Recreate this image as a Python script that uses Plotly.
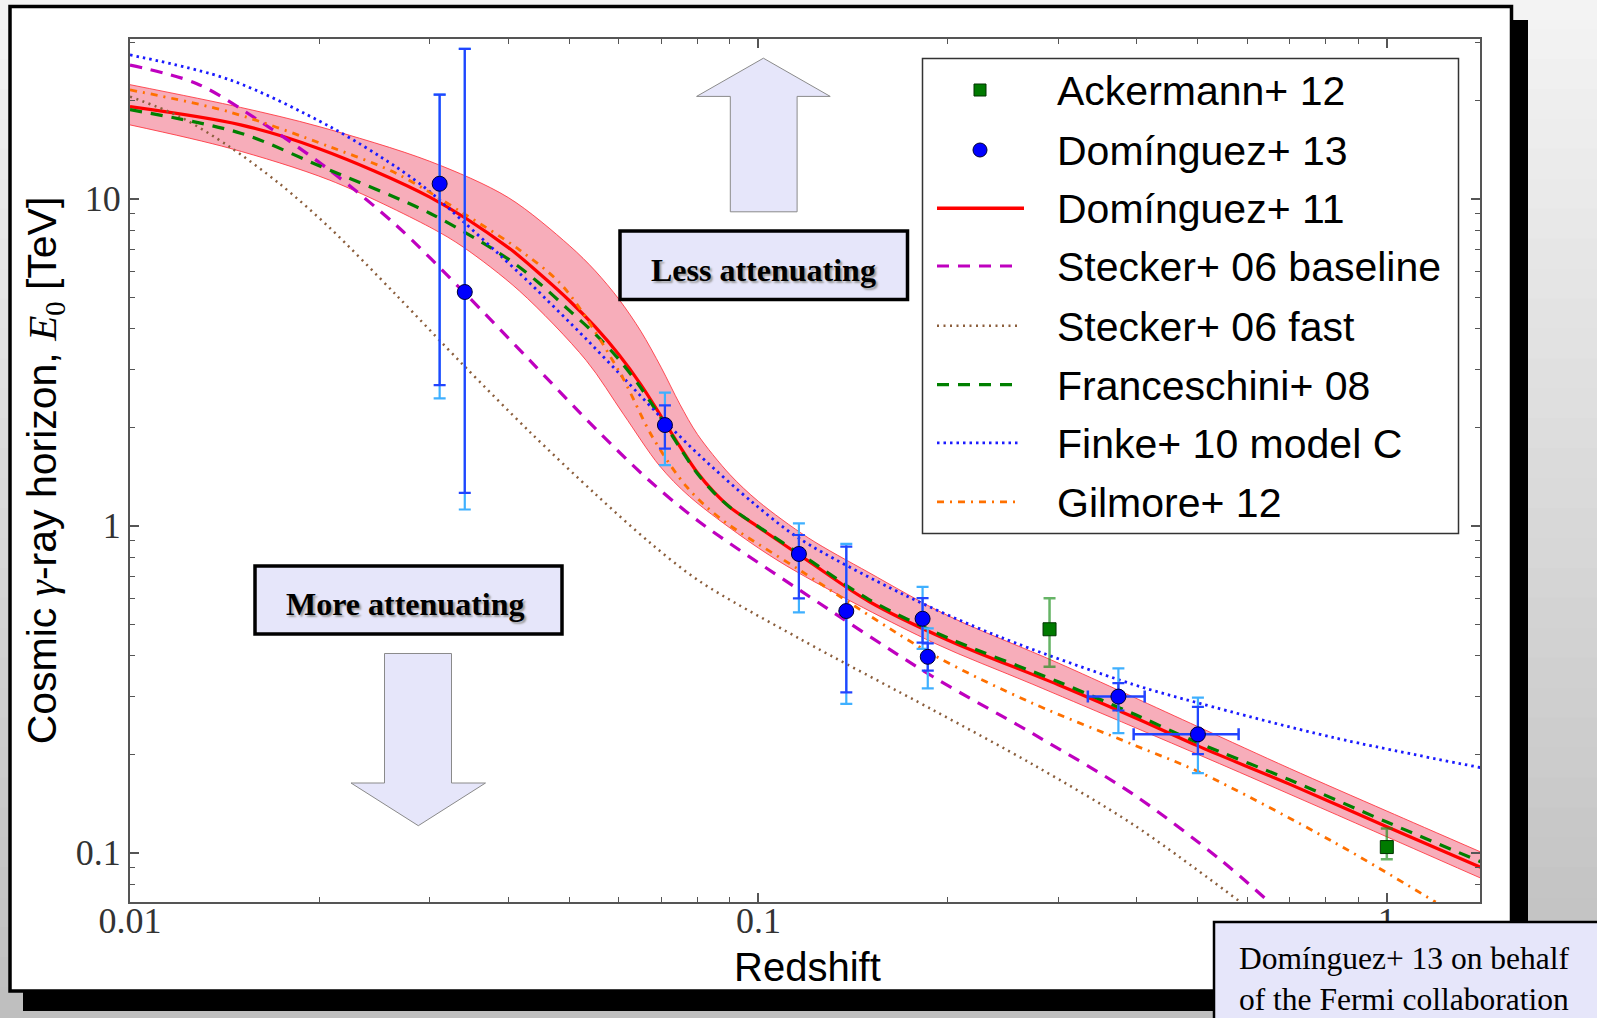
import plotly.graph_objects as go

# ---------------- data ----------------
# Domínguez+ 11: central curve and uncertainty band
dom11_z = [0.01, 0.015, 0.02, 0.03, 0.04, 0.045, 0.05, 0.055, 0.06, 0.065, 0.07, 0.075, 0.08,
           0.085, 0.09, 0.1, 0.12, 0.15, 0.2, 0.3, 0.4, 0.5, 0.7, 1.0, 1.41]
dom11_e = [19.1, 16.8, 14.2, 10.1, 7.08, 5.86, 4.88, 4.05, 3.33, 2.70, 2.16, 1.746, 1.45,
           1.265, 1.14, 0.989, 0.780, 0.586, 0.447, 0.326, 0.257, 0.212, 0.162, 0.120, 0.0902]
band_hi_z = [0.01, 0.015, 0.02, 0.03, 0.04, 0.05, 0.055, 0.06, 0.065, 0.07, 0.075,
             0.08, 0.09, 0.1, 0.12, 0.15, 0.2, 0.3, 0.5, 0.7, 1.0, 1.41]
band_hi_e = [22.3, 19.0, 16.6, 13.0, 10.07, 7.19, 6.01, 4.92, 3.93, 3.05, 2.35,
             1.90, 1.435, 1.186, 0.918, 0.718, 0.531, 0.380, 0.243, 0.181, 0.134, 0.1005]
band_lo_z = [0.01, 0.0144, 0.0208, 0.030, 0.0339, 0.0417, 0.0532, 0.061, 0.0696, 0.0777,
             0.098, 0.1163, 0.1896, 0.2734, 0.542, 1.41]
band_lo_e = [16.8, 14.26, 11.38, 8.18, 7.11, 5.21, 3.20, 2.19, 1.524, 1.227,
             0.877, 0.714, 0.439, 0.327, 0.187, 0.0836]

# Stecker+ 06 baseline
stb_z = [0.01, 0.01275, 0.01627, 0.0208, 0.0265, 0.0339, 0.0432, 0.0552, 0.0671, 0.0806,
         0.1163, 0.1896, 0.2734, 0.3945, 0.542, 0.643]
stb_e = [25.6, 22.5, 17.0, 12.2, 8.30, 5.20, 3.21, 1.97, 1.371, 1.026,
         0.635, 0.345, 0.231, 0.151, 0.0955, 0.0719]

# Stecker+ 06 fast
stf_z = [0.01, 0.012, 0.0144, 0.0173, 0.0208, 0.0265, 0.0339, 0.0432, 0.0552, 0.0671,
         0.0806, 0.1163, 0.1896, 0.2734, 0.3945, 0.585]
stf_e = [20.5, 17.8, 14.4, 11.1, 8.13, 5.08, 3.10, 1.94, 1.242, 0.889,
         0.676, 0.451, 0.273, 0.186, 0.122, 0.0706]

# Franceschini+ 08
fra_z = [0.01, 0.015, 0.02, 0.03, 0.04, 0.045, 0.05, 0.055, 0.06, 0.065, 0.07, 0.075, 0.08,
         0.085, 0.09, 0.1, 0.12, 0.15, 0.2, 0.3, 0.4, 0.5, 0.7, 1.0, 1.41]
fra_e = [18.7, 15.85, 12.6, 9.02, 6.53, 5.47, 4.55, 3.85, 3.22, 2.64, 2.13, 1.73, 1.44,
         1.26, 1.14, 0.993, 0.789, 0.594, 0.454, 0.333, 0.263, 0.217, 0.167, 0.124, 0.0938]

# Finke+ 10 model C
fin_z = [0.01, 0.0144, 0.0208, 0.0265, 0.030, 0.0339, 0.0383, 0.0432, 0.0532, 0.061,
         0.0714, 0.0806, 0.098, 0.1163, 0.1698, 0.242, 0.3945, 0.504, 0.821, 1.41]
fin_e = [27.5, 23.1, 16.6, 12.5, 10.5, 8.51, 6.87, 5.53, 3.72, 2.83,
         2.06, 1.64, 1.175, 0.912, 0.617, 0.457, 0.327, 0.286, 0.225, 0.182]

# Gilmore+ 12
gil_z = [0.01, 0.0144, 0.0208, 0.0265, 0.0339, 0.0417, 0.0489, 0.0601, 0.0679, 0.0768,
         0.0868, 0.1163, 0.1896, 0.2734, 0.3945, 0.504, 0.821, 1.196]
gil_e = [21.5, 18.4, 14.4, 11.95, 9.02, 6.96, 5.38, 2.95, 1.86, 1.318,
         1.055, 0.731, 0.403, 0.286, 0.214, 0.176, 0.108, 0.0706]

# Domínguez+ 13 measurements
d13_z = [0.0311, 0.0341, 0.0710, 0.116, 0.138, 0.1825, 0.186, 0.374, 0.5005]
d13_e = [11.1, 5.18, 2.03, 0.819, 0.548, 0.519, 0.397, 0.300, 0.230]
d13_stat_hi = [20.8, 28.7, 2.33, 0.936, 0.862, 0.600, 0.4365, 0.330, 0.279]
d13_stat_lo = [2.69, 1.26, 1.72, 0.599, 0.309, 0.4385, 0.360, 0.272, 0.200]
d13_tot_hi = [20.8, 28.7, 2.55, 1.016, 0.879, 0.650, 0.4853, 0.366, 0.298]
d13_tot_lo = [2.45, 1.12, 1.53, 0.543, 0.285, 0.420, 0.318, 0.232, 0.175]
d13_z_lo = [None, None, None, None, None, None, None, 0.3344, 0.3955]
d13_z_hi = [None, None, None, None, None, None, None, 0.4118, 0.581]

# Ackermann+ 12 measurements
ack_z = [0.2906, 1.0]
ack_e = [0.482, 0.104]
ack_hi = [0.600, 0.1186]
ack_lo = [0.370, 0.0954]

x_ticks = [0.01, 0.1, 1]
x_ticktext = ["0.01", "0.1", "1"]
y_ticks = [0.1, 1, 10]
y_ticktext = ["0.1", "1", "10"]
x_minor = [m * d for d in (0.01, 0.1) for m in range(2, 10)]
y_minor = [0.08, 0.09] + [m * d for d in (0.1, 1) for m in range(2, 10)] + [20, 30]

legend_labels = ["Ackermann+ 12", "Domínguez+ 13", "Domínguez+ 11", "Stecker+ 06 baseline",
                 "Stecker+ 06 fast", "Franceschini+ 08", "Finke+ 10 model C", "Gilmore+ 12"]

# ---------------- styles ----------------
RED = "#ff0000"
PURPLE = "#bf00bf"
BROWN = "#8b5e3c"
GREEN = "#008000"
BLUE = "#1a1aff"
ORANGE = "#ff7000"
LAV = "#e6e6fa"

W, H = 1597, 1018
L, R, T, B = 130, 1480, 39, 902


def px(x):
    return (x - L) / (R - L)


def py(y):
    return (B - y) / (B - T)


fig = go.Figure()
SPL = dict(shape="spline", smoothing=0.9)

# uncertainty band: lower edge, then upper edge filled down to it
fig.add_trace(go.Scatter(
    x=band_lo_z, y=band_lo_e, mode="lines",
    line=dict(color="rgba(255,50,60,0.85)", width=1, **SPL),
    hoverinfo="skip", showlegend=False, name="Domínguez+ 11 band (low)"))
fig.add_trace(go.Scatter(
    x=band_hi_z, y=band_hi_e, mode="lines", fill="tonexty",
    fillcolor="rgba(235,60,90,0.42)",
    line=dict(color="rgba(255,50,60,0.85)", width=1, **SPL),
    hoverinfo="skip", showlegend=False, name="Domínguez+ 11 band (high)"))

curve_specs = [
    (dom11_z, dom11_e, "Domínguez+ 11", RED, 3.2, "solid"),
    (stb_z, stb_e, "Stecker+ 06 baseline", PURPLE, 3.2, "12px,9px"),
    (stf_z, stf_e, "Stecker+ 06 fast", BROWN, 2.5, "2px,4.5px"),
    (fra_z, fra_e, "Franceschini+ 08", GREEN, 3.2, "12px,9px"),
    (fin_z, fin_e, "Finke+ 10 model C", BLUE, 2.8, "2.5px,4px"),
    (gil_z, gil_e, "Gilmore+ 12", ORANGE, 2.8, "7px,6px,2px,6px"),
]
for zz, ee, name, col, lw, dash in curve_specs:
    fig.add_trace(go.Scatter(x=zz, y=ee, mode="lines", name=name, showlegend=False,
                             line=dict(color=col, width=lw, dash=dash, **SPL)))

# Ackermann+ 12
fig.add_trace(go.Scatter(
    x=ack_z, y=ack_e, mode="markers", name="Ackermann+ 12", showlegend=False,
    marker=dict(symbol="square", size=13, color="#007a00", line=dict(color="#003300", width=1)),
    error_y=dict(type="data", array=[h - e for h, e in zip(ack_hi, ack_e)],
                 arrayminus=[e - l for e, l in zip(ack_e, ack_lo)],
                 color="rgba(20,140,20,0.65)", thickness=2.5, width=6)))

# Domínguez+ 13 total (stat+sys) error bars
fig.add_trace(go.Scatter(
    x=d13_z, y=d13_e, mode="markers", name="Domínguez+ 13 (stat+sys)", showlegend=False,
    marker=dict(size=1, color="rgba(0,0,0,0)"),
    error_y=dict(type="data", array=[h - e for h, e in zip(d13_tot_hi, d13_e)],
                 arrayminus=[e - l for e, l in zip(d13_e, d13_tot_lo)],
                 color="#3fb0ff", thickness=2.2, width=6)))

# Domínguez+ 13 statistical error bars and points
ex_hi = [None if h is None else h - z for h, z in zip(d13_z_hi, d13_z)]
ex_lo = [None if l is None else z - l for l, z in zip(d13_z_lo, d13_z)]
fig.add_trace(go.Scatter(
    x=d13_z, y=d13_e, mode="markers", name="Domínguez+ 13", showlegend=False,
    marker=dict(symbol="circle", size=15, color="#0000ff", line=dict(color="#000033", width=1)),
    error_y=dict(type="data", array=[h - e for h, e in zip(d13_stat_hi, d13_e)],
                 arrayminus=[e - l for e, l in zip(d13_e, d13_stat_lo)],
                 color="#2244ff", thickness=2.2, width=6),
    error_x=dict(type="data", array=ex_hi, arrayminus=ex_lo,
                 color="#2244ff", thickness=2.5, width=6)))

# ---------------- decorations ----------------
shapes = []
# background gradient
nb = 34
for i in range(nb):
    y0 = i * H / nb
    y1 = (i + 1) * H / nb
    c = int(round(244 - (244 - 190) * ((y0 + y1) / 2) / H))
    shapes.append(dict(type="rect", xref="paper", yref="paper", layer="below",
                       x0=px(-5), x1=px(W + 5), y0=py(y1 + 1), y1=py(y0 - 1),
                       fillcolor=f"rgb({c},{c},{c})", line=dict(width=0)))
# shadow and white panel
shapes.append(dict(type="rect", xref="paper", yref="paper", layer="below",
                   x0=px(23), x1=px(1528), y0=py(1011), y1=py(20),
                   fillcolor="black", line=dict(width=0)))
shapes.append(dict(type="rect", xref="paper", yref="paper", layer="below",
                   x0=px(10), x1=px(1511.5), y0=py(991), y1=py(6.5),
                   fillcolor="white", line=dict(color="black", width=3.5)))


def poly(pts):
    return "M " + " L ".join(f"{px(a):.5f},{py(b):.5f}" for a, b in pts) + " Z"


# block arrows
up_arrow = [(763.4, 58.2), (830.2, 96.4), (797.1, 96.4), (797.1, 211.8),
            (730.3, 211.8), (730.3, 96.4), (696.6, 96.4)]
down_arrow = [(384.5, 653.5), (451.5, 653.5), (451.5, 783), (485.5, 783),
              (418.3, 825.7), (351, 783), (384.5, 783)]
for pts in (up_arrow, down_arrow):
    shapes.append(dict(type="path", xref="paper", yref="paper", layer="above",
                       path=poly(pts), fillcolor=LAV, line=dict(color="#8a8a8a", width=1)))

# text boxes
for (x0, y0, x1, y1, lw) in [(620, 231, 907.5, 299.5, 3.5), (255, 566, 562, 634, 3.5),
                             (1214, 922, 1610, 1030, 2.5)]:
    shapes.append(dict(type="rect", xref="paper", yref="paper", layer="above",
                       x0=px(x0), x1=px(x1), y0=py(y1), y1=py(y0),
                       fillcolor=LAV, line=dict(color="black", width=lw)))

# legend box
shapes.append(dict(type="rect", xref="paper", yref="paper", layer="above",
                   x0=px(922.5), x1=px(1458.5), y0=py(533.5), y1=py(58.5),
                   fillcolor="white", line=dict(color="#333333", width=1.5)))
row_y = [90, 150, 208.2, 266, 325.7, 384.6, 442.9, 501.8]
# marker samples
shapes.append(dict(type="rect", xref="paper", yref="paper", layer="above",
                   x0=px(974), x1=px(986), y0=py(row_y[0] + 6), y1=py(row_y[0] - 6),
                   fillcolor="#007a00", line=dict(color="#003300", width=1)))
shapes.append(dict(type="circle", xref="paper", yref="paper", layer="above",
                   x0=px(973), x1=px(987), y0=py(row_y[1] + 7), y1=py(row_y[1] - 7),
                   fillcolor="#0000ff", line=dict(color="#000033", width=1)))
# line samples
line_samples = [(RED, 3.5, "solid", 1024), (PURPLE, 3.2, "12px,9px", 1013),
                (BROWN, 2.5, "2px,4.5px", 1020), (GREEN, 3.2, "12px,9px", 1013),
                (BLUE, 2.8, "2.5px,4px", 1020), (ORANGE, 2.8, "7px,6px,2px,6px", 1020)]
for (col, lw, dash, xe), yy in zip(line_samples, row_y[2:]):
    shapes.append(dict(type="line", xref="paper", yref="paper", layer="above",
                       x0=px(937), x1=px(xe), y0=py(yy), y1=py(yy),
                       line=dict(color=col, width=lw, dash=dash)))

annotations = []
for lab, yy in zip(legend_labels, row_y):
    annotations.append(dict(text=lab, xref="paper", yref="paper", x=px(1055), y=py(yy + 1),
                            xanchor="left", yanchor="middle", showarrow=False,
                            font=dict(family="Liberation Sans, Arial, sans-serif", size=41, color="black")))

box_font = dict(family="Liberation Serif, Times New Roman, serif", size=32, color="black",
                weight="bold", shadow="2px 2px 2px #9a9a9a")
annotations.append(dict(text="Less attenuating", xref="paper", yref="paper", x=px(763), y=py(270),
                        xanchor="center", yanchor="middle", showarrow=False, font=box_font))
annotations.append(dict(text="More attenuating", xref="paper", yref="paper", x=px(405), y=py(604),
                        xanchor="center", yanchor="middle", showarrow=False, font=box_font))
annotations.append(dict(text="Domínguez+ 13 on behalf<br>of the Fermi collaboration",
                        xref="paper", yref="paper", x=px(1237), y=py(979),
                        xanchor="left", yanchor="middle", align="left", showarrow=False,
                        font=dict(family="Liberation Serif, Times New Roman, serif", size=31.5,
                                  color="black")))
# x-axis title placed as text so it sits where the reference has it
annotations.append(dict(text="Redshift", xref="paper", yref="paper", x=px(807), y=py(967),
                        xanchor="center", yanchor="middle", showarrow=False,
                        font=dict(family="Liberation Sans, Arial, sans-serif", size=40,
                                  color="black")))

axis_common = dict(
    type="log", showgrid=False, zeroline=False,
    showline=True, linecolor="#555555", linewidth=2, mirror="ticks",
    ticks="inside", ticklen=9, tickwidth=1.5, tickcolor="#555555",
    tickfont=dict(family="Liberation Serif, Times New Roman, serif", size=36, color="#333333"),
    automargin=False,
)

fig.update_layout(
    width=W, height=H, template="none",
    margin=dict(l=L, r=W - R, t=T, b=H - B, pad=0),
    paper_bgcolor="#d8d8d8", plot_bgcolor="white",
    showlegend=False,
    shapes=shapes, annotations=annotations,
    xaxis=dict(axis_common, range=[-2, 0.1483], tickmode="array", tickvals=x_ticks,
               ticktext=x_ticktext, ticklabelstandoff=-14,
               minor=dict(tickmode="array", tickvals=x_minor, ticks="inside", ticklen=5,
                          tickwidth=1.2, tickcolor="#555555")),
    yaxis=dict(axis_common, range=[-1.151, 1.488], tickmode="array", tickvals=y_ticks,
               ticktext=y_ticktext,
               minor=dict(tickmode="array", tickvals=y_minor, ticks="inside", ticklen=5,
                          tickwidth=1.2, tickcolor="#555555"),
               title=dict(text='Cosmic <span style="font-family:Liberation Serif"><i>γ</i></span>-ray horizon, '
                               '<span style="font-family:Liberation Serif"><i>E</i><sub>0</sub></span> [TeV]',
                          standoff=6,
                          font=dict(family="Liberation Sans, Arial, sans-serif", size=41,
                                    color="black"))),
)

fig.write_html("out.html")
